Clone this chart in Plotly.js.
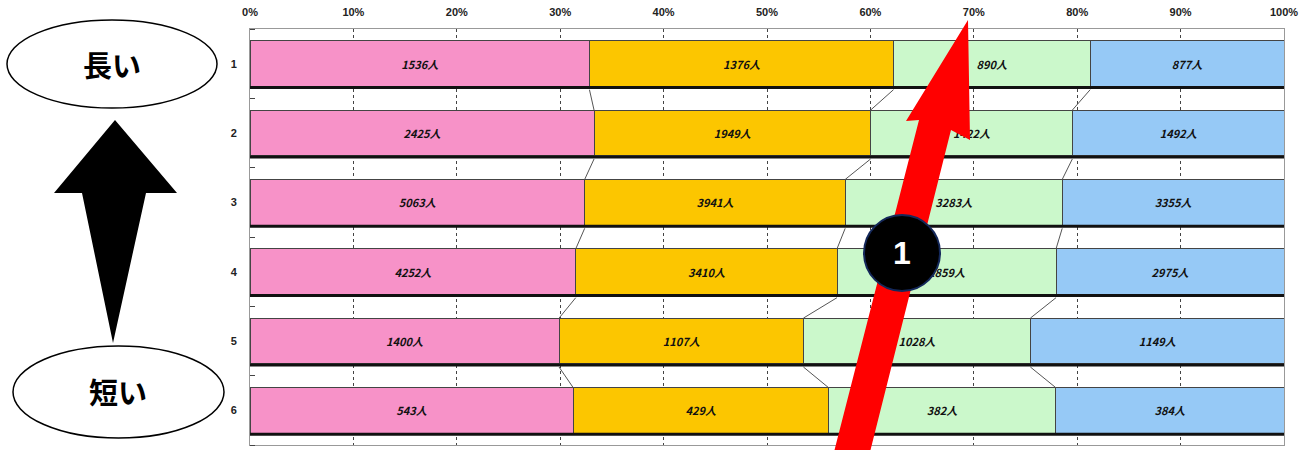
<!DOCTYPE html>
<html>
<head>
<meta charset="utf-8">
<script src="https://cdn.plot.ly/plotly-3.0.1.min.js"></script>
<style>html,body{margin:0;padding:0;background:#fff;}#chart{width:1311px;height:450px;}</style>
</head>
<body>
<div id="chart"></div>
<script>
// ---- data ----
const rowLabels = ['1', '2', '3', '4', '5', '6'];
const seriesA = [1536, 2425, 5063, 4252, 1400, 543];
const seriesB = [1376, 1949, 3941, 3410, 1107, 429];
const seriesC = [890, 1422, 3283, 2859, 1028, 382];
const seriesD = [877, 1492, 3355, 2975, 1149, 384];
const xTickVals = [0, 10, 20, 30, 40, 50, 60, 70, 80, 90, 100];
const xTickText = ['0%', '10%', '20%', '30%', '40%', '50%', '60%', '70%', '80%', '90%', '100%'];
const sideTop = '長い';
const sideBottom = '短い';
const badge = '1';

const seriesList = [seriesA, seriesB, seriesC, seriesD];
const colors = ['#F792C8', '#FCC600', '#CBF8CB', '#96C9F6'];
const yPos = rowLabels.map((_, i) => i);
const BW = 0.66;

const traces = [];
seriesList.forEach((s, k) => {
  traces.push({
    type: 'bar', orientation: 'h', x: s, y: yPos,
    width: BW,
    marker: {color: colors[k], line: {color: '#444', width: 1}},
    text: s.map(v => v + '人'),
    textposition: 'inside', insidetextanchor: 'middle',
    constraintext: 'none',
    textfont: {family: 'Noto Sans CJK JP', size: 11, color: '#111', weight: 'bold', style: 'italic'},
    hoverinfo: 'skip', showlegend: false
  });
});

// cumulative percentages for connector lines
const totals = yPos.map(i => seriesList.reduce((a, s) => a + s[i], 0));
for (let k = 0; k < 3; k++) {
  const cum = yPos.map(i => {
    let c = 0;
    for (let j = 0; j <= k; j++) c += seriesList[j][i];
    return c / totals[i] * 100;
  });
  const xs = [], ys = [];
  for (let i = 0; i < yPos.length - 1; i++) {
    xs.push(cum[i], cum[i + 1], null);
    ys.push(i + BW / 2 + 0.045, i + 1 - BW / 2, null);
  }
  traces.push({type: 'scatter', mode: 'lines', x: xs, y: ys,
    line: {color: '#555', width: 1}, hoverinfo: 'skip', showlegend: false});
}
// dark shadow under each bar
yPos.forEach(i => {
  traces.push({type: 'scatter', mode: 'lines',
    x: [0, totals[i] / totals[i] * 100], y: [i + BW / 2 + 0.015, i + BW / 2 + 0.015],
    line: {color: '#111', width: 3}, hoverinfo: 'skip', showlegend: false});
});

// pixel -> paper helpers
const L = 250, R = 1284, T = 29, B = 445;
const px = p => (p - L) / (R - L);
const py = p => (B - p) / (B - T);
const path = pts => 'M ' + pts.map(p => px(p[0]) + ',' + py(p[1])).join(' L ') + ' Z';

const shapes = [
  {type: 'circle', xref: 'paper', yref: 'paper', x0: px(7), x1: px(217), y0: py(108), y1: py(20),
   line: {color: '#000', width: 1.5}, fillcolor: '#fff', layer: 'above'},
  {type: 'circle', xref: 'paper', yref: 'paper', x0: px(13), x1: px(224), y0: py(438), y1: py(346),
   line: {color: '#000', width: 1.5}, fillcolor: '#fff', layer: 'above'},
  {type: 'path', xref: 'paper', yref: 'paper',
   path: path([[115, 120], [177, 193], [146, 193], [113, 343], [82, 193], [54, 193]]),
   fillcolor: '#000', line: {width: 0}, layer: 'above'},
  {type: 'path', xref: 'paper', yref: 'paper',
   path: path([[968, 20], [970, 140], [951, 130], [870, 452], [834, 452], [919, 120], [906, 121]]),
   fillcolor: '#FF0000', line: {width: 0}, layer: 'above'},
  {type: 'circle', xref: 'paper', yref: 'paper', x0: px(864), x1: px(940), y0: py(291), y1: py(215),
   fillcolor: '#000', line: {color: '#14285a', width: 2}, layer: 'above'}
];

const annotations = [
  {xref: 'paper', yref: 'paper', x: px(112), y: py(64), xanchor: 'center', yanchor: 'middle',
   text: sideTop, showarrow: false,
   font: {family: 'Noto Sans CJK JP', size: 29, color: '#000', weight: 'bold'}},
  {xref: 'paper', yref: 'paper', x: px(118), y: py(391), xanchor: 'center', yanchor: 'middle',
   text: sideBottom, showarrow: false,
   font: {family: 'Noto Sans CJK JP', size: 29, color: '#000', weight: 'bold'}},
  {xref: 'paper', yref: 'paper', x: px(902), y: py(253), xanchor: 'center', yanchor: 'middle',
   text: badge, showarrow: false,
   font: {family: 'Liberation Sans', size: 32, color: '#fff', weight: 'bold'}}
];

const layout = {
  width: 1311, height: 450,
  margin: {l: L, r: 1311 - R, t: T, b: 450 - B},
  barmode: 'stack', barnorm: 'percent',
  paper_bgcolor: '#fff', plot_bgcolor: '#fff',
  xaxis: {side: 'top', range: [0, 100], tickvals: xTickVals, ticktext: xTickText,
    showgrid: true, gridcolor: '#444', griddash: 'dot', gridwidth: 1,
    showline: true, mirror: true, linecolor: '#999', linewidth: 1,
    ticks: '', zeroline: false, ticklabelstandoff: 8,
    tickfont: {family: 'Liberation Sans', size: 11, color: '#222', weight: 'bold'}},
  yaxis: {range: [5.5, -0.5], tickvals: yPos, ticktext: rowLabels,
    showgrid: false, zeroline: false, showline: true, mirror: true, linecolor: '#999', linewidth: 1,
    ticks: '', ticklen: 0, ticklabelstandoff: 10,
    minor: {tick0: 0.5, dtick: 1, ticks: 'inside', ticklen: 5, tickcolor: '#444', showgrid: false},
    tickfont: {family: 'Liberation Sans', size: 11, color: '#222', weight: 'bold'}},
  shapes: shapes,
  annotations: annotations,
  showlegend: false
};

Plotly.newPlot('chart', traces, layout, {displayModeBar: false, staticPlot: true});
</script>
</body>
</html>
